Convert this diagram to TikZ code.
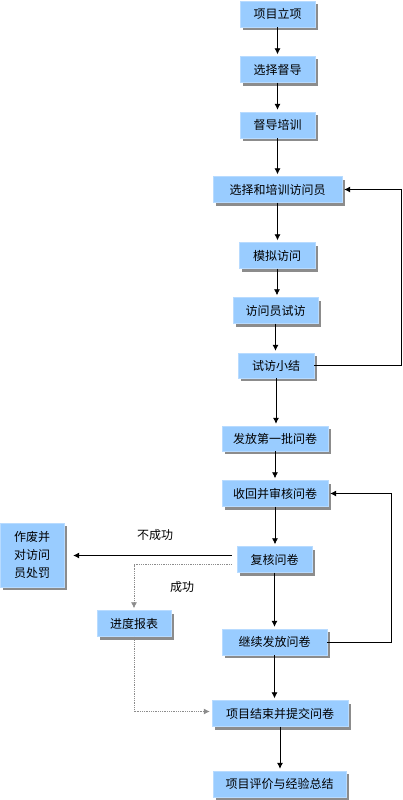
\documentclass[tikz,border=0pt]{standalone}
\usepackage{fontspec}
\setmainfont{Noto Sans CJK SC}
\usepackage{tikz}
\usetikzlibrary{arrows.meta}
\usetikzlibrary{shadows}

\definecolor{boxblue}{RGB}{153,204,255}

\begin{document}
\begin{tikzpicture}[x=1pt,y=-1pt,
  box/.style={fill=boxblue, draw=boxblue!70!white, minimum height=26pt, inner sep=0pt,
    font=\fontsize{12}{18}\selectfont,
    copy shadow={shadow xshift=3pt, shadow yshift=-3pt, fill=black!45, draw=none}},
  arr/.style={-{Latex[length=6pt,width=6pt]}, line width=0.8pt, shorten >=2pt},
  dotline/.style={draw=black!45, densely dotted, line width=0.8pt}]
 \useasboundingbox (0,0) rectangle (402,800);
 % main column
 \node[box, minimum width=75pt] (lixiang) at (277.5,14) {项目立项};
 \node[box, minimum width=75pt] (xuandu) at (277.5,69.5) {选择督导};
 \node[box, minimum width=75pt] (peixun) at (277.5,125) {督导培训};
 \node[box, minimum width=129pt] (xuanpei) at (277.5,189.5) {选择和培训访问员};
 \node[box, minimum width=76pt] (moni) at (277,255.5) {模拟访问};
 \node[box, minimum width=85pt] (shifang) at (275.5,310.5) {访问员试访};
 \node[box, minimum width=76pt, minimum height=25pt] (xiaojie) at (276,365.5) {试访小结};
 \node[box, minimum width=106pt, minimum height=25pt] (fafang) at (275,438.5) {发放第一批问卷};
 \node[box, minimum width=106pt] (shouhui) at (275,493.5) {收回并审核问卷};
 \node[box, minimum width=75pt] (fuhe) at (274.5,559.5) {复核问卷};
 \node[box, minimum width=105pt] (jixu) at (274.5,642) {继续发放问卷};
 \node[box, minimum width=136pt] (jieshu) at (280,713.5) {项目结束并提交问卷};
 \node[box, minimum width=133pt] (pingjia) at (279.5,784) {项目评价与经验总结};
 % side boxes
 \node[box, minimum width=64pt, minimum height=64pt, align=center] (zuofei) at (32,555) {作废并\\对访问\\员处罚};
 \node[box, minimum width=74pt] (jindu) at (134,623.5) {进度报表};
 \node[font=\fontsize{12}{14}\selectfont] (bucheng) at (155,535) {不成功};
 \node[font=\fontsize{12}{14}\selectfont] (cheng) at (182,587) {成功};
 \coordinate (back1) at (401,367);
 \coordinate (back2) at (391,643);

 \draw[arr] (lixiang.south) -- (lixiang.south |- xuandu.north);
 \draw[arr] (xuandu.south) -- (xuandu.south |- peixun.north);
 \draw[arr] (peixun.south) -- (peixun.south |- xuanpei.north);
 \draw[arr] (xuanpei.south) -- (xuanpei.south |- moni.north);
 \draw[arr] (moni.south) -- (moni.south |- shifang.north);
 \draw[arr] (shifang.south) -- (shifang.south |- xiaojie.north);
 \draw[arr] (xiaojie.south) -- (xiaojie.south |- fafang.north);
 \draw[arr] (fafang.south) -- (fafang.south |- shouhui.north);
 \draw[arr] (shouhui.south) -- (shouhui.south |- fuhe.north);
 \draw[arr] (fuhe.south) -- (fuhe.south |- jixu.north);
 \draw[arr] (jixu.south) -- (jixu.south |- jieshu.north);
 \draw[arr] (jieshu.south) -- (jieshu.south |- pingjia.north);
 % loops back
 \draw[arr] (xiaojie.east) -- (xiaojie.east -| back1) |- (xuanpei.east);
 \draw[arr] (jixu.east) -- (jixu.east -| back2) |- (shouhui.east);
 % check result
 \draw[arr, shorten <=5pt, shorten >=9pt] ([yshift=4pt]fuhe.west) -- ([yshift=4pt]fuhe.west -| zuofei.east);
 \draw[dotline, arr, shorten <=5pt] ([yshift=-5pt]fuhe.west) -| (jindu.north);
 \draw[dotline, arr] (jindu.south) |- ([yshift=2pt]jieshu.west);
\end{tikzpicture}
\end{document}
